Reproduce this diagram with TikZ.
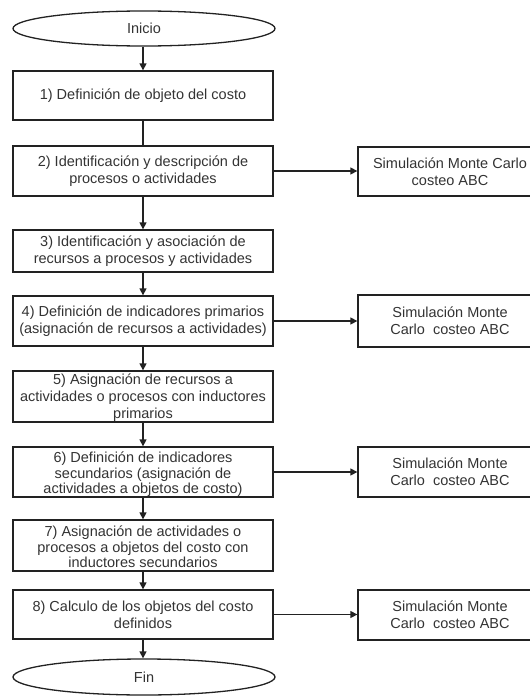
\documentclass[tikz,border=0pt]{standalone}
\usepackage{fontspec}
\setmainfont{Liberation Sans}
\usetikzlibrary{arrows.meta,shapes.geometric}
\definecolor{txt}{HTML}{333333}
\definecolor{ln}{HTML}{222222}
\begin{document}
\begin{tikzpicture}[x=1pt,y=1pt,
  every node/.style={font=\fontsize{14.5}{17}\selectfont, text=txt, align=center, inner sep=0pt},
  stepbox/.style={draw=ln, line width=1.3pt, rectangle, minimum width=260pt},
  simbox/.style={draw=ln, line width=1.3pt, rectangle, minimum width=184pt},
  term/.style={draw=ln, line width=1.3pt, ellipse, minimum width=262pt},
  conn/.style={draw=ln, line width=1.3pt},
  arr/.style={conn, -{Triangle[length=7pt,width=7pt]}}
]
\useasboundingbox (0,0) rectangle (530,-696);
\node[term, minimum height=35pt] (ini) at (144,-28.5) {Inicio};
\node[stepbox, minimum height=49pt] (b1) at (143,-95.5) {1) Definición de objeto del costo};
\node[stepbox, minimum height=50pt] (b2) at (143,-171) {2) Identificación y descripción de\\procesos o actividades};
\node[stepbox, minimum height=42pt] (b3) at (143,-251) {3) Identificación y asociación de\\recursos a procesos y actividades};
\node[stepbox, minimum height=50pt] (b4) at (143,-321) {4) Definición de indicadores primarios\\(asignación de recursos a actividades)};
\node[stepbox, minimum height=51pt] (b5) at (143,-396.5) {};
\node (b5t) at ([yshift=-1.5pt]b5.center) {5) Asignación de recursos a\\actividades o procesos con inductores\\primarios};
\node[stepbox, minimum height=50pt] (b6) at (143,-472) {};
\node[font=\fontsize{14.5}{15.5}\selectfont] (b6t) at ([yshift=-2.5pt]b6.center) {6) Definición de indicadores\\secundarios (asignación de\\actividades a objetos de costo)};
\node[stepbox, minimum height=51pt] (b7) at (143,-545.5) {};
\node[font=\fontsize{14.5}{15.5}\selectfont] (b7t) at ([yshift=-1.5pt]b7.center) {7) Asignación de actividades o\\procesos a objetos del costo con\\inductores secundarios};
\node[stepbox, minimum height=49pt] (b8) at (143,-614.5) {8) Calculo de los objetos del costo\\definidos};
\node[term, minimum height=36pt] (fin) at (144,-677) {Fin};

\node[simbox, minimum height=49pt] (r1) at (450,-171.5) {Simulación Monte Carlo\\costeo ABC};
\node[simbox, minimum height=52pt] (r2) at (450,-321) {Simulación Monte\\Carlo\ \ costeo ABC};
\node[simbox, minimum height=50pt] (r3) at (450,-472) {Simulación Monte\\Carlo\ \ costeo ABC};
\node[simbox, minimum height=50pt] (r4) at (450,-615) {Simulación Monte\\Carlo\ \ costeo ABC};

\draw[arr] (ini.south -| b1.north) -- (b1.north);
\draw[conn] (b1.south) -- (b2.north);
\draw[arr] (b2.south) -- (b3.north);
\draw[arr] (b3.south) -- (b4.north);
\draw[arr] (b4.south) -- (b5.north);
\draw[arr] (b5.south) -- (b6.north);
\draw[arr] (b6.south) -- (b7.north);
\draw[arr] (b7.south) -- (b8.north);
\draw[arr] (b8.south) -- (b8.south |- fin.north);

\draw[arr] (b2.east) -- (b2.east -| r1.west);
\draw[arr] (b4.east) -- (b4.east -| r2.west);
\draw[arr] (b6.east) -- (b6.east -| r3.west);
\draw[arr] (b8.east) -- (b8.east -| r4.west);
\end{tikzpicture}
\end{document}
